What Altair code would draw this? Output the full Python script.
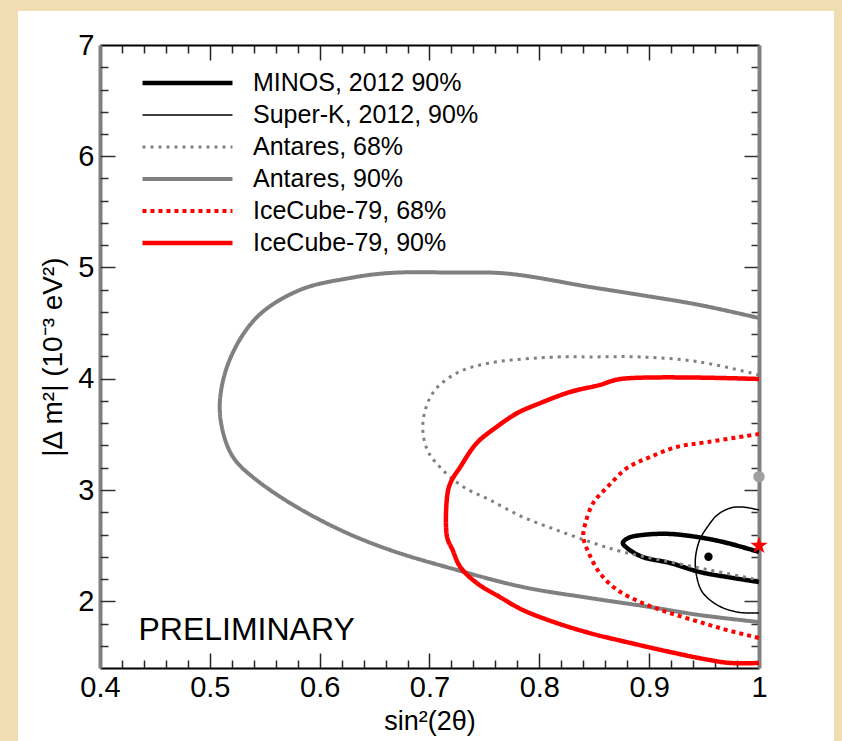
import altair as alt
import pandas as pd

# ---------------- data ----------------
series_names = ["MINOS, 2012 90%", "Super-K, 2012, 90%", "Antares, 68%",
                "Antares, 90%", "IceCube-79, 68%", "IceCube-79, 90%"]
series_colors = ["#000000", "#000000", "#808080", "#808080", "#ff0000", "#ff0000"]
series_dash = [[1, 0], [1, 0], [3, 5], [1, 0], [4, 4], [1, 0]]
series_width = [4.5, 1.5, 3, 4, 4, 4.5]

minos_x = [1.0, 0.971, 0.949, 0.919, 0.894, 0.881, 0.876, 0.881, 0.894, 0.919, 0.946, 0.971, 1.0]
minos_y = [2.443, 2.524, 2.569, 2.605, 2.596, 2.569, 2.524, 2.470, 2.398, 2.344, 2.263, 2.218, 2.173]

superk_x = [1.0, 0.985, 0.974, 0.962, 0.953, 0.946, 0.942, 0.944, 0.949, 0.962, 0.980, 1.0]
superk_y = [2.820, 2.847, 2.838, 2.775, 2.667, 2.551, 2.371, 2.191, 2.074, 1.966, 1.903, 1.894]

ant68_x = [1.0, 0.946, 0.892, 0.846, 0.816, 0.755, 0.725, 0.703, 0.694, 0.698, 0.712,
           0.731, 0.755, 0.785, 0.816, 0.849, 0.876, 0.910, 0.955, 1.0]
ant68_y = [4.034, 4.151, 4.196, 4.196, 4.196, 4.142, 4.052, 3.872, 3.602, 3.360, 3.180,
           3.027, 2.910, 2.757, 2.640, 2.524, 2.443, 2.371, 2.281, 2.191]

ant90_x = [1.0, 0.946, 0.892, 0.846, 0.771, 0.719, 0.664, 0.628, 0.582, 0.543, 0.518, 0.509,
           0.514, 0.523, 0.539, 0.573, 0.619, 0.664, 0.725, 0.785, 0.846, 0.901, 0.946, 1.0]
ant90_y = [4.546, 4.663, 4.753, 4.825, 4.945, 4.955, 4.951, 4.906, 4.798, 4.555, 4.169, 3.764,
           3.450, 3.270, 3.117, 2.883, 2.640, 2.461, 2.281, 2.128, 2.029, 1.948, 1.876, 1.813]

ic68_x = [1.0, 0.953, 0.925, 0.901, 0.880, 0.862, 0.849, 0.842, 0.840, 0.845, 0.855,
          0.871, 0.894, 0.919, 0.946, 0.971, 1.0]
ic68_y = [3.503, 3.431, 3.387, 3.297, 3.198, 3.027, 2.883, 2.703, 2.578, 2.434, 2.254,
          2.101, 1.984, 1.894, 1.813, 1.741, 1.670]

ic90_x = [1.0, 0.874, 0.855, 0.828, 0.801, 0.780, 0.761, 0.743, 0.728, 0.719, 0.716, 0.716,
          0.721, 0.728, 0.743, 0.764, 0.785, 0.816, 0.846, 0.883, 0.919, 0.955, 0.974, 1.0]
ic90_y = [3.998, 3.998, 3.944, 3.881, 3.782, 3.692, 3.566, 3.422, 3.207, 3.063, 2.937, 2.578,
          2.461, 2.308, 2.164, 2.038, 1.921, 1.804, 1.714, 1.625, 1.544, 1.472, 1.445, 1.445]

contour_x = [minos_x, superk_x, ant68_x, ant90_x, ic68_x, ic90_x]
contour_y = [minos_y, superk_y, ant68_y, ant90_y, ic68_y, ic90_y]

# best-fit points: MINOS, IceCube-79, Antares
bf_x = [0.954, 1.0, 1.0]
bf_y = [2.40, 2.50, 3.12]
bf_color = ["#000000", "#ff0000", "#a0a0a0"]
STAR = "M0,-1L0.2245,-0.309L0.9511,-0.309L0.3633,0.118L0.5878,0.809L0,0.382L-0.5878,0.809L-0.3633,0.118L-0.9511,-0.309L-0.2245,-0.309Z"
bf_shape = ["circle", STAR, "circle"]
bf_size = [70, 340, 130]

x_major = [0.4, 0.5, 0.6, 0.7, 0.8, 0.9, 1.0]
y_major = [2, 3, 4, 5, 6, 7]
x_ticks = [round(0.42 + 0.02 * i, 2) for i in range(29)]
y_ticks = [round(1.6 + 0.2 * i, 1) for i in range(27)]

note_text = ["PRELIMINARY"]
note_x = [0.435]
note_y = [1.655]

# ---------------- tables ----------------
rows = []
for name, xs_, ys_ in zip(series_names, contour_x, contour_y):
    for i, (a, b) in enumerate(zip(xs_, ys_)):
        rows.append({"series": name, "i": i, "x": a, "y": b})
contours = pd.DataFrame(rows)
bestfit = pd.DataFrame({"x": bf_x, "y": bf_y, "c": bf_color, "s": bf_shape, "z": bf_size})
notes = pd.DataFrame({"x": note_x, "y": note_y, "t": note_text})
panel = pd.DataFrame({"p": [0]})

F = "Liberation Sans"
PARCH = "#f0ddb4"
W, H = 659, 623
xs = alt.Scale(domain=[0.4, 1.0], nice=False, zero=False)
ys = alt.Scale(domain=[1.4, 7.0], nice=False, zero=False)
xcond = {"condition": {"test": "abs(datum.value*10 - round(datum.value*10)) < 0.01", "value": 15}, "value": 8}
ycond = {"condition": {"test": "abs(datum.value - round(datum.value)) < 0.01", "value": 15}, "value": 8}

legend = alt.Legend(orient="none", legendX=40, legendY=26, title=None, symbolType="stroke",
                    symbolSize=8100, labelFontSize=25, labelFont=F, labelColor="black",
                    labelOffset=18, labelLimit=500, clipHeight=24, rowPadding=7, padding=0)

# ---------------- layers ----------------
lines = alt.Chart(contours).mark_line(interpolate="catmull-rom", strokeJoin="round").encode(
    x=alt.X("x:Q", scale=xs, axis=alt.Axis(
        orient="bottom", values=x_major, format="~g", ticks=False, domain=True,
        domainColor="black", domainWidth=2, labelFontSize=29, labelFont=F, labelColor="black",
        labelPadding=5, labelFlush=False, grid=False, title="sin²(2θ)", titleFont=F,
        titleFontSize=27, titleFontWeight="normal", titleColor="black", titlePadding=6, zindex=0)),
    y=alt.Y("y:Q", scale=ys, axis=alt.Axis(
        orient="left", values=y_major, ticks=False, domain=True, domainColor="#808080",
        domainWidth=4, labelFontSize=29, labelFont=F, labelColor="black", labelPadding=6,
        labelFlush=False, grid=False, title="|Δ m²| (10⁻³ eV²)", titleFont=F, titleFontSize=28,
        titleFontWeight="normal", titleColor="black", titlePadding=10, zindex=0)),
    color=alt.Color("series:N", scale=alt.Scale(domain=series_names, range=series_colors), legend=legend),
    strokeDash=alt.StrokeDash("series:N", scale=alt.Scale(domain=series_names, range=series_dash), legend=legend),
    strokeWidth=alt.StrokeWidth("series:N", scale=alt.Scale(type="ordinal", domain=series_names, range=series_width), legend=legend),
    detail="series:N",
    order="i:Q",
)

points = alt.Chart(bestfit).mark_point(filled=True, opacity=1).encode(
    x=alt.X("x:Q", scale=xs, axis=alt.Axis(
        orient="top", offset=-H, values=x_ticks + x_major[1:-1], labels=False, domain=False,
        ticks=True, tickSize=xcond, tickColor="#222222", tickWidth=1.5, grid=False, title=None, zindex=0)),
    y=alt.Y("y:Q", scale=ys, axis=alt.Axis(
        orient="right", offset=-W, values=y_ticks, labels=False, domain=False,
        ticks=True, tickSize=ycond, tickColor="#333333", tickWidth=1.5, grid=False, title=None, zindex=0)),
    color=alt.Color("c:N", scale=None),
    shape=alt.Shape("s:N", scale=None),
    size=alt.Size("z:Q", scale=None),
)

text = alt.Chart(notes).mark_text(align="left", baseline="alphabetic", font=F, fontSize=32, color="black").encode(
    x=alt.X("x:Q", scale=xs, axis=alt.Axis(
        orient="bottom", offset=-H, values=x_ticks + x_major[1:-1], labels=False, domain=True,
        domainColor="black", domainWidth=2, ticks=True, tickSize=xcond, tickColor="#222222",
        tickWidth=1.5, grid=False, title=None, zindex=0)),
    y=alt.Y("y:Q", scale=ys, axis=alt.Axis(
        orient="left", offset=-W, values=y_ticks, labels=False, domain=True,
        domainColor="#808080", domainWidth=4, ticks=True, tickSize=ycond, tickColor="#333333",
        tickWidth=1.5, grid=False, title=None, zindex=0)),
    text="t:N",
)

# parchment frame around the white sheet (decoration)
frame = alt.Chart(panel).mark_rect(fill="transparent", stroke=PARCH, strokeWidth=40).encode(
    x=alt.value(-102), x2=alt.value(754), y=alt.value(-54), y2=alt.value(716))

chart = alt.layer(lines, text, points, frame).resolve_axis(x="independent", y="independent").properties(
    width=W, height=H,
    padding={"left": 100, "top": 45, "right": 83, "bottom": 73},
    autosize=alt.AutoSizeParams(type="none"),
).configure(background="white").configure_view(stroke=None, fill=None)

chart.save("out.html", embed_options={"renderer": "svg", "actions": False})
